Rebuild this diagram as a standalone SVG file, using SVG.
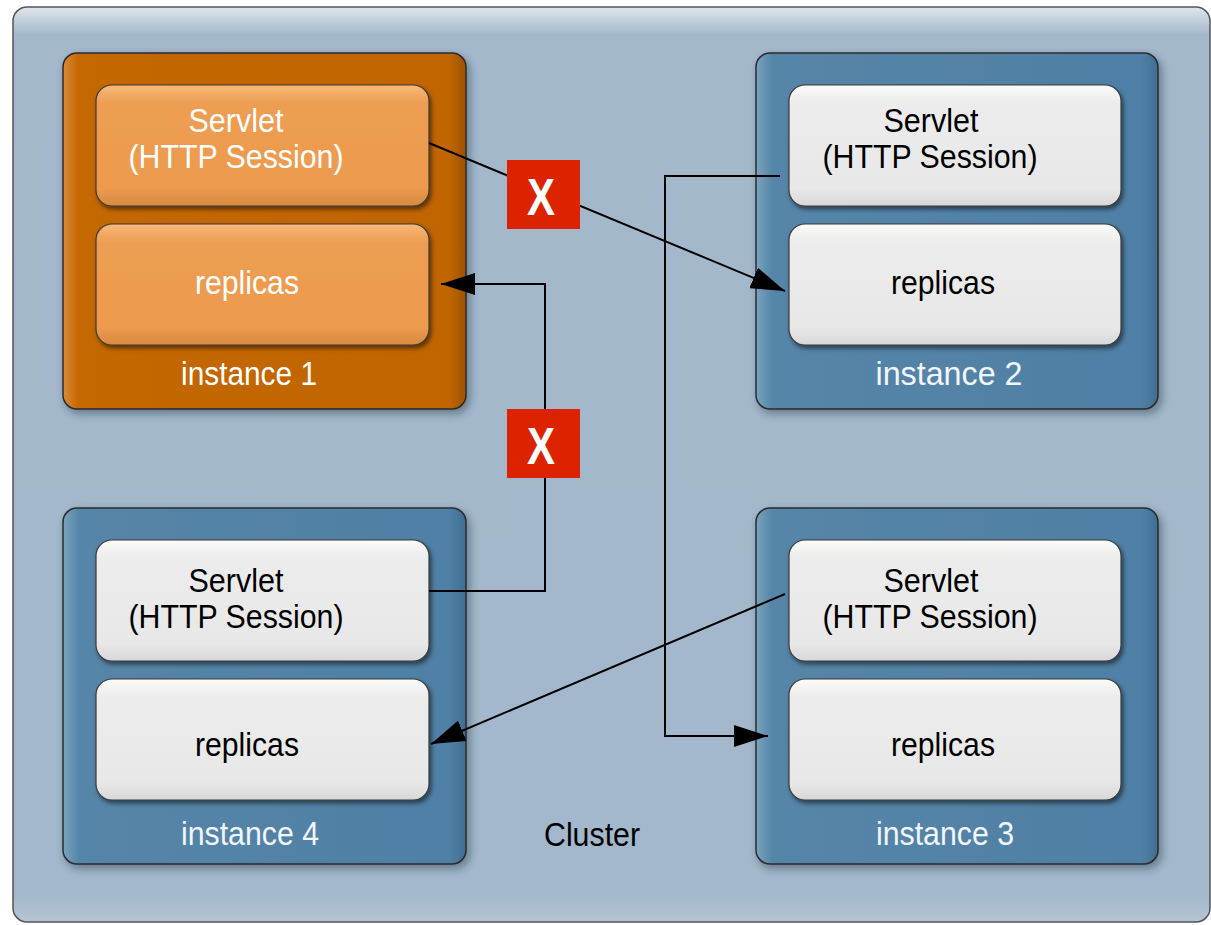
<svg xmlns="http://www.w3.org/2000/svg" width="1211" height="925" viewBox="0 0 1211 925">
<defs>
<style>
.t{font-family:"Liberation Sans",Arial,sans-serif;font-size:34px;text-anchor:middle}
.dk{fill:#000}
.wt{fill:#ffffff}
.lbl{fill:#f2f6fa}
.inst{stroke:#2b2b2b;stroke-width:1.5}
.box{stroke:#3a3a3a;stroke-width:1.2}
.conn{fill:none;stroke:#000;stroke-width:2}
.xbox{fill:#dd2200}
.xt{font-family:"Liberation Sans",Arial,sans-serif;font-size:52px;font-weight:bold;fill:#fff;text-anchor:middle}
</style>
<linearGradient id="gWhite" x1="0" y1="0" x2="0" y2="1">
<stop offset="0" stop-color="#fbfbf8"/>
<stop offset="0.15" stop-color="#ececec"/>
<stop offset="0.85" stop-color="#e8e8e8"/>
<stop offset="1" stop-color="#d8d8d8"/>
</linearGradient>
<linearGradient id="gOrange" x1="0" y1="0" x2="0" y2="1">
<stop offset="0" stop-color="#f7b878"/>
<stop offset="0.15" stop-color="#ee9e52"/>
<stop offset="0.85" stop-color="#ec9a4e"/>
<stop offset="1" stop-color="#d98a40"/>
</linearGradient>
<linearGradient id="gBlue" x1="0" y1="0" x2="1" y2="0">
<stop offset="0" stop-color="#7aa4bd"/>
<stop offset="0.04" stop-color="#5585a8"/>
<stop offset="0.96" stop-color="#4f80a5"/>
<stop offset="1" stop-color="#3f6e92"/>
</linearGradient>
<linearGradient id="gOr" x1="0" y1="0" x2="1" y2="0">
<stop offset="0" stop-color="#d98a3a"/>
<stop offset="0.04" stop-color="#c46700"/>
<stop offset="0.96" stop-color="#c06500"/>
<stop offset="1" stop-color="#9c5200"/>
</linearGradient>
<linearGradient id="gCluster" x1="0" y1="0" x2="0" y2="1">
<stop offset="0" stop-color="#dfe6ea"/>
<stop offset="0.03" stop-color="#a4b8cc"/>
<stop offset="0.97" stop-color="#a3b8cc"/>
<stop offset="1" stop-color="#b4c4d4"/>
</linearGradient>
<filter id="sh" x="-10%" y="-10%" width="125%" height="125%">
<feDropShadow dx="3" dy="4" stdDeviation="4" flood-color="#1a2a3a" flood-opacity="0.45"/>
</filter>
<filter id="sh2" x="-10%" y="-10%" width="125%" height="130%">
<feDropShadow dx="2" dy="3" stdDeviation="2" flood-color="#000" flood-opacity="0.5"/>
</filter>
<marker id="ah" viewBox="0 0 34 22" refX="34" refY="11" markerWidth="34" markerHeight="22" markerUnits="userSpaceOnUse" orient="auto">
<path d="M0,0 L34,11 L0,22 Z" fill="#000"/>
</marker>
</defs>
<rect x="0" y="0" width="1211" height="925" fill="#ffffff"/>
<g id="cluster">
<rect x="13" y="7" width="1197" height="915" rx="14" fill="url(#gCluster)" stroke="#555" stroke-width="1.5"/>
<text class="t dk" x="592" y="846" textLength="96" lengthAdjust="spacingAndGlyphs">Cluster</text>
</g>
<g id="instance1">
<rect class="inst" x="63" y="53" width="403" height="356" rx="14" fill="url(#gOr)" filter="url(#sh)"/>
<rect class="box" x="96" y="85" width="333" height="121" rx="16" fill="url(#gOrange)" filter="url(#sh2)"/>
<text class="t wt" x="236" y="132" textLength="95" lengthAdjust="spacingAndGlyphs">Servlet</text>
<text class="t wt" x="236" y="168" textLength="215" lengthAdjust="spacingAndGlyphs">(HTTP Session)</text>
<rect class="box" x="96" y="224" width="333" height="121" rx="16" fill="url(#gOrange)" filter="url(#sh2)"/>
<text class="t wt" x="247" y="294" textLength="104" lengthAdjust="spacingAndGlyphs">replicas</text>
<text class="t wt" x="249" y="385" textLength="136" lengthAdjust="spacingAndGlyphs">instance 1</text>
</g>
<g id="instance2">
<rect class="inst" x="756" y="53" width="402" height="356" rx="14" fill="url(#gBlue)" filter="url(#sh)"/>
<rect class="box" x="789" y="85" width="332" height="121" rx="16" fill="url(#gWhite)" filter="url(#sh2)"/>
<text class="t dk" x="931" y="132" textLength="95" lengthAdjust="spacingAndGlyphs">Servlet</text>
<text class="t dk" x="930" y="168" textLength="215" lengthAdjust="spacingAndGlyphs">(HTTP Session)</text>
<rect class="box" x="789" y="224" width="332" height="121" rx="16" fill="url(#gWhite)" filter="url(#sh2)"/>
<text class="t dk" x="943" y="294" textLength="104" lengthAdjust="spacingAndGlyphs">replicas</text>
<text class="t lbl" x="949" y="385" textLength="147" lengthAdjust="spacingAndGlyphs">instance  2</text>
</g>
<g id="instance4">
<rect class="inst" x="63" y="508" width="403" height="356" rx="14" fill="url(#gBlue)" filter="url(#sh)"/>
<rect class="box" x="96" y="540" width="333" height="121" rx="16" fill="url(#gWhite)" filter="url(#sh2)"/>
<text class="t dk" x="236" y="592" textLength="95" lengthAdjust="spacingAndGlyphs">Servlet</text>
<text class="t dk" x="236" y="628" textLength="215" lengthAdjust="spacingAndGlyphs">(HTTP Session)</text>
<rect class="box" x="96" y="679" width="333" height="121" rx="16" fill="url(#gWhite)" filter="url(#sh2)"/>
<text class="t dk" x="247" y="756" textLength="104" lengthAdjust="spacingAndGlyphs">replicas</text>
<text class="t lbl" x="250" y="845" textLength="138" lengthAdjust="spacingAndGlyphs">instance 4</text>
</g>
<g id="instance3">
<rect class="inst" x="756" y="508" width="402" height="356" rx="14" fill="url(#gBlue)" filter="url(#sh)"/>
<rect class="box" x="789" y="540" width="332" height="121" rx="16" fill="url(#gWhite)" filter="url(#sh2)"/>
<text class="t dk" x="931" y="592" textLength="95" lengthAdjust="spacingAndGlyphs">Servlet</text>
<text class="t dk" x="930" y="628" textLength="215" lengthAdjust="spacingAndGlyphs">(HTTP Session)</text>
<rect class="box" x="789" y="679" width="332" height="121" rx="16" fill="url(#gWhite)" filter="url(#sh2)"/>
<text class="t dk" x="943" y="756" textLength="104" lengthAdjust="spacingAndGlyphs">replicas</text>
<text class="t lbl" x="945" y="845" textLength="138" lengthAdjust="spacingAndGlyphs">instance 3</text>
</g>
<g id="connectors">
<path class="conn" d="M429,143 L785,291" marker-end="url(#ah)"/>
<path class="conn" d="M429,591 L545,591 L545,284 L441,284" marker-end="url(#ah)"/>
<path class="conn" d="M780,176 L665,176 L665,736 L768,736" marker-end="url(#ah)"/>
<path class="conn" d="M785,594 L431,744" marker-end="url(#ah)"/>
</g>
<g id="x1">
<rect class="xbox" x="507" y="160" width="73" height="69"/>
<text class="xt" x="541" y="215" textLength="28" lengthAdjust="spacingAndGlyphs">X</text>
</g>
<g id="x2">
<rect class="xbox" x="507" y="409" width="73" height="69"/>
<text class="xt" x="541" y="464" textLength="28" lengthAdjust="spacingAndGlyphs">X</text>
</g>
</svg>
